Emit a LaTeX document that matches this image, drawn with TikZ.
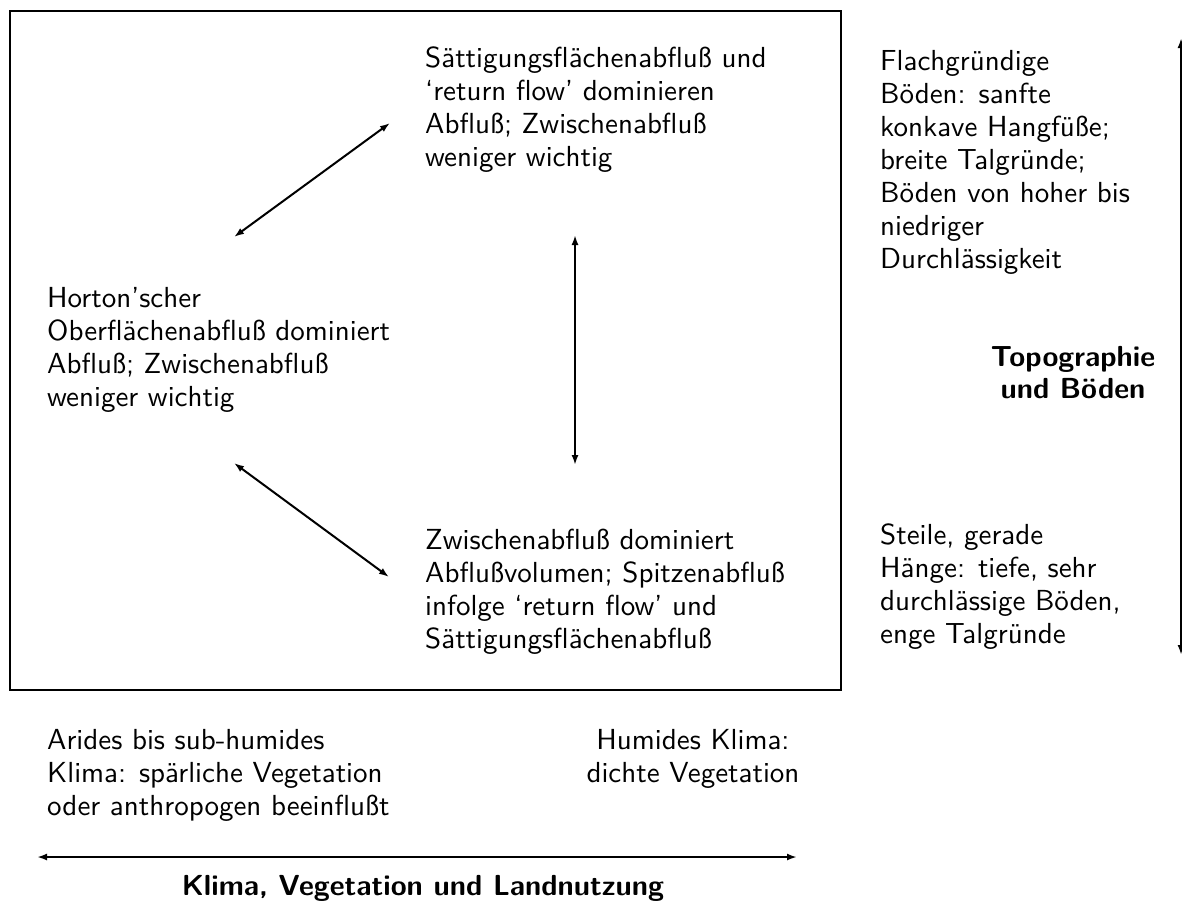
\documentclass[tikz,border=0pt]{standalone}
\usepackage{fontspec}
\setsansfont{lmsans10-regular.otf}[BoldFont=lmsans10-bold.otf]
\usetikzlibrary{arrows.meta}
\begin{document}
\begin{tikzpicture}[x=1pt,y=-1pt,
  txt/.style={anchor=north west,inner sep=0pt,align=left,
    font=\sffamily\fontsize{29}{33}\selectfont},
  boldtxt/.style={inner sep=0pt,align=center,
    font=\sffamily\bfseries\fontsize{29}{32}\selectfont},
  dbl/.style={{Latex[length=10pt,width=7pt]}-{Latex[length=10pt,width=7pt]},line width=2pt},
  frame/.style={draw,line width=2pt}]
\useasboundingbox (0,0) rectangle (1182,905);

% process frame
\node[frame,anchor=north west,minimum width=831pt,minimum height=679pt,inner sep=0pt] (box) at (9,10) {};

% runoff regimes
\node[txt] (sat) at (425,47) {Sättigungsflächenabfluß und\\`return flow' dominieren\\Abfluß; Zwischenabfluß\\weniger wichtig};
\node[txt] (hort) at (47,287) {Horton'scher\\Oberflächenabfluß dominiert\\Abfluß; Zwischenabfluß\\weniger wichtig};
\node[txt] (zwi) at (425,529) {Zwischenabfluß dominiert\\Abflußvolumen; Spitzenabfluß\\infolge `return flow' und\\Sättigungsflächenabfluß};

% topography and soils
\node[txt] (flach) at (880,50) {Flachgründige\\Böden: sanfte\\konkave Hangfüße;\\breite Talgründe;\\Böden von hoher bis\\niedriger\\Durchlässigkeit};
\node[boldtxt] (topo) at (1073,373) {Topographie\\und Böden};
\node[txt] (steil) at (880,524) {Steile, gerade\\Hänge: tiefe, sehr\\durchlässige Böden,\\enge Talgründe};

% climate and vegetation
\node[txt] (arid) at (47,729) {Arides bis sub-humides\\Klima: spärliche Vegetation\\oder anthropogen beeinflußt};
\node[txt,anchor=north,align=center] (humid) at (693,729) {Humides Klima:\\dichte Vegetation};
\node[boldtxt] (klima) at (423,888) {Klima, Vegetation und Landnutzung};

% arrow end points
\coordinate (d1a) at (234,237);
\coordinate (d1b) at (390,123);
\coordinate (d2a) at (234,463);
\coordinate (d2b) at (389,577);
\coordinate (va) at (575,235);
\coordinate (vb) at (575,465);
\coordinate (ra) at (1181,38);
\coordinate (rb) at (1181,655);
\coordinate (ba) at (37,857);
\coordinate (bb) at (797,857);

\draw[dbl] (d1a) -- (d1b);
\draw[dbl] (d2a) -- (d2b);
\draw[dbl] (va) -- (vb);
\draw[dbl] (ra) -- (rb);
\draw[dbl] (ba) -- (bb);
\end{tikzpicture}
\end{document}
